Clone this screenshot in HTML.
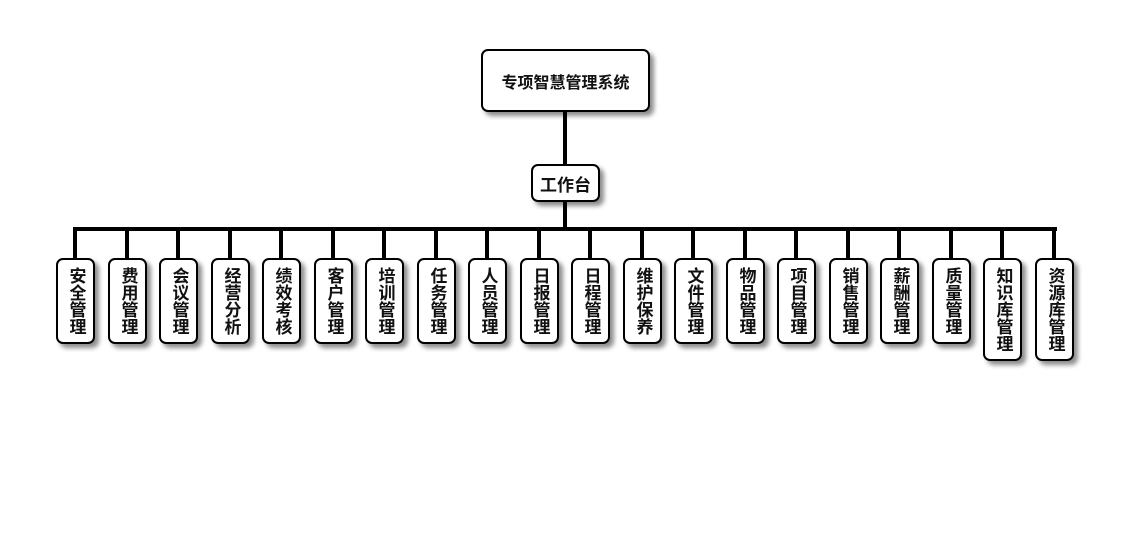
<!DOCTYPE html>
<html><head><meta charset="utf-8"><style>
body{margin:0;width:1130px;height:560px;background:#fff;position:relative;overflow:hidden;font-family:"Liberation Sans","Noto Sans CJK SC",sans-serif;}
.b{position:absolute;border:2px solid #000;border-radius:7px;background:#fff;box-shadow:4px 4px 5px rgba(0,0,0,.45);box-sizing:border-box;font-weight:bold;color:#111;display:flex;align-items:center;justify-content:center;text-align:center}
.v{width:39px;top:258px;height:86px;font-size:17px;line-height:18px;writing-mode:vertical-rl;letter-spacing:0}
.l{position:absolute;background:#000}
</style></head><body>
<div class="l" style="left:563px;top:110px;width:4px;height:56px"></div>
<div class="l" style="left:563px;top:200px;width:4px;height:30px"></div>
<div class="l" style="left:73px;top:227px;width:984px;height:4px"></div>
<div class="b" style="left:481px;top:49px;width:169px;height:63px;font-size:16px">专项智慧管理系统</div>
<div class="b" style="left:531px;top:164px;width:69px;height:38px;font-size:17px">工作台</div>
<div id="c"></div>
<script>
var n=["安全管理","费用管理","会议管理","经营分析","绩效考核","客户管理","培训管理","任务管理","人员管理","日报管理","日程管理","维护保养","文件管理","物品管理","项目管理","销售管理","薪酬管理","质量管理","知识库管理","资源库管理"];
var h="";
for(var i=0;i<20;i++){var cx=Math.round(75+i*51.5);
h+='<div class="l" style="left:'+(cx-2)+'px;top:229px;width:4px;height:30px"></div>';
h+='<div class="b v" style="left:'+(cx-19)+'px;'+(n[i].length>4?'height:103px':'')+'">'+n[i]+'</div>';}
document.getElementById("c").innerHTML=h;
</script>
</body></html>
